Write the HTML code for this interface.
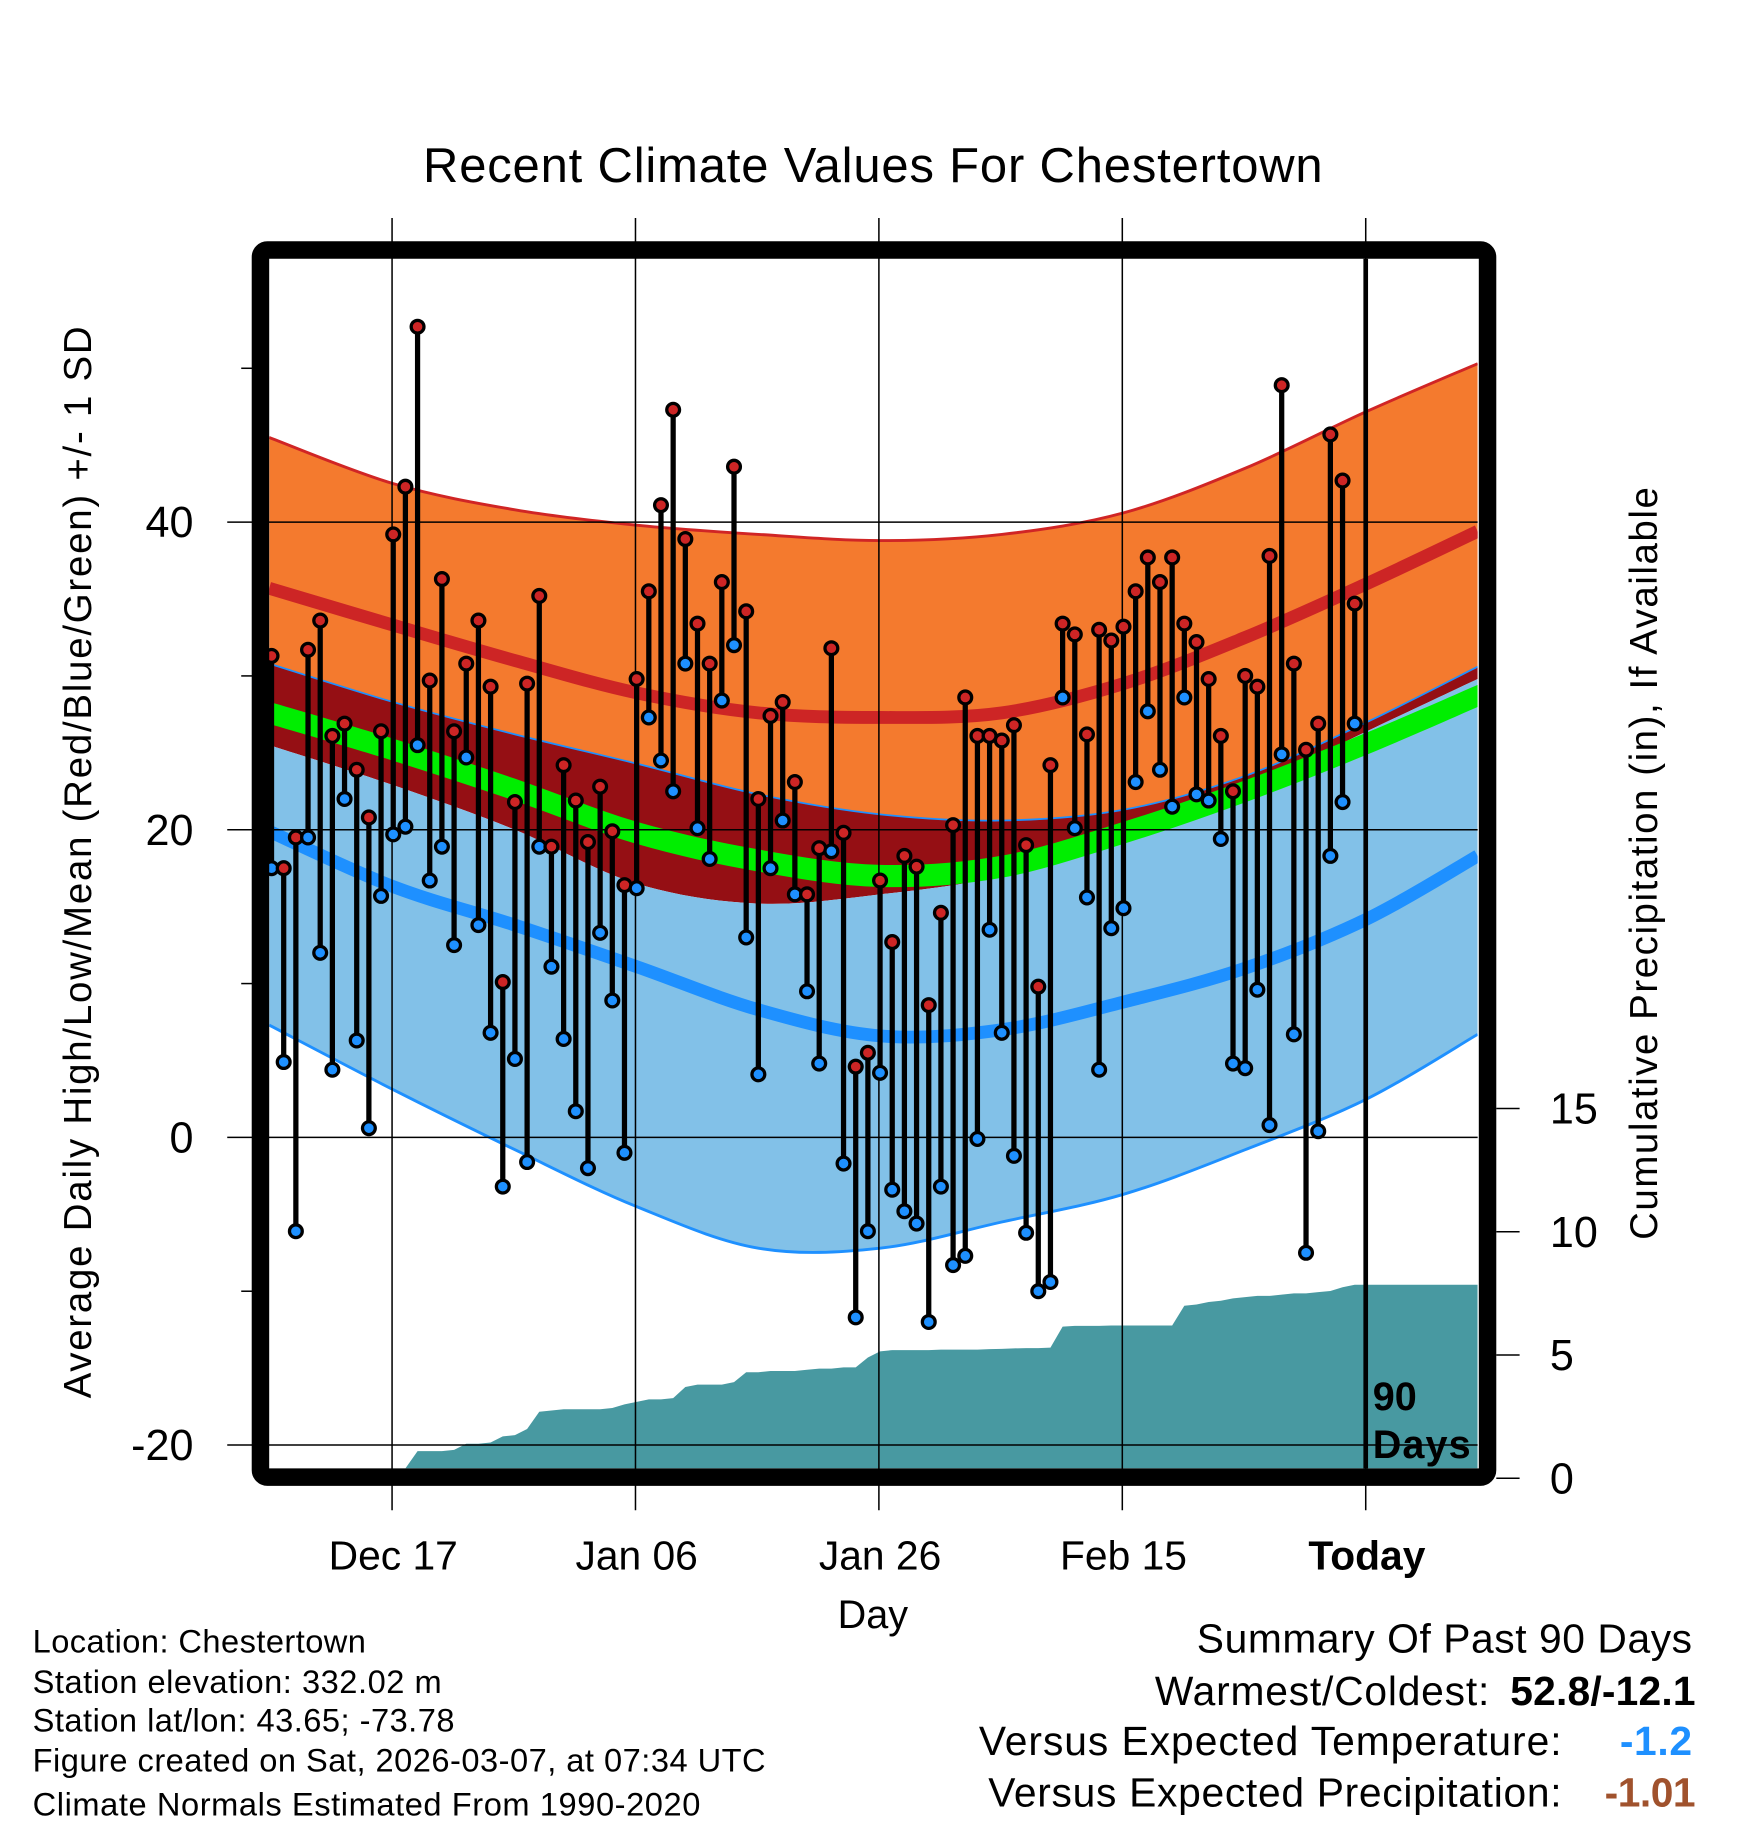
<!DOCTYPE html>
<html><head><meta charset="utf-8"><style>
html,body{margin:0;padding:0;background:#fff}
svg{display:block;font-family:"Liberation Sans",sans-serif}
</style></head><body>
<svg id="chart" width="1748" height="1828" viewBox="0 0 1500 1568.6" xmlns="http://www.w3.org/2000/svg">
<text x="749" y="156" font-size="42" text-anchor="middle" textLength="772">Recent Climate Values For Chestertown</text>
<g id="bands"></g>
<g id="precip"></g>
<g id="grid"></g>
<g id="marks"></g>
<g id="frame"></g>
<g id="axes"></g>
<text x="1178" y="1210" font-size="34" font-weight="bold">90</text>
<text x="1178" y="1251" font-size="34" font-weight="bold" textLength="84">Days</text>
<text transform="translate(78,740) rotate(-90)" font-size="33" text-anchor="middle" textLength="920">Average Daily High/Low/Mean (Red/Blue/Green) +/- 1 SD</text>
<text transform="translate(1422,741) rotate(-90)" font-size="33" text-anchor="middle" textLength="646">Cumulative Precipitation (in), If Available</text>
<text x="749" y="1397" font-size="34" text-anchor="middle">Day</text>
<g font-size="28">
<text x="28" y="1418" textLength="286">Location: Chestertown</text>
<text x="28" y="1453" textLength="351">Station elevation: 332.02 m</text>
<text x="28" y="1486" textLength="362">Station lat/lon: 43.65; -73.78</text>
<text x="28" y="1520" textLength="629">Figure created on Sat, 2026-03-07, at 07:34 UTC</text>
<text x="28" y="1558" textLength="573">Climate Normals Estimated From 1990-2020</text>
</g>
<g font-size="35">
<text x="1027" y="1418" textLength="425">Summary Of Past 90 Days</text>
<text x="991" y="1463" textLength="287">Warmest/Coldest:</text>
<text x="1296" y="1463" font-weight="bold" textLength="159">52.8/-12.1</text>
<text x="840" y="1506" textLength="500">Versus Expected Temperature:</text>
<text x="1390" y="1506" font-weight="bold" fill="#1E90FF" textLength="62">-1.2</text>
<text x="848" y="1550" textLength="492">Versus Expected Precipitation:</text>
<text x="1377" y="1550" font-weight="bold" fill="#A0522D" textLength="78">-1.01</text>
</g>
</svg>
<script>
// ---- data ----
const highs = [31.3,17.5,19.5,31.7,33.6,26.1,26.9,23.9,20.8,26.4,39.2,42.3,52.7,29.7,36.3,26.4,30.8,33.6,29.3,10.1,21.8,29.5,35.2,18.9,24.2,21.9,19.2,22.8,19.9,16.4,29.8,35.5,41.1,47.3,38.9,33.4,30.8,36.1,43.6,34.2,22.0,27.4,28.3,23.1,15.8,18.8,31.8,19.8,4.6,5.5,16.7,12.7,18.3,17.6,8.6,14.6,20.3,28.6,26.1,26.1,25.8,26.8,19.0,9.8,24.2,33.4,32.7,26.2,33.0,32.3,33.2,35.5,37.7,36.1,37.7,33.4,32.2,29.8,26.1,22.5,30.0,29.3,37.8,48.9,30.8,25.2,26.9,45.7,42.7,34.7];
const lows = [17.5,4.9,-6.1,19.5,12.0,4.4,22.0,6.3,0.6,15.7,19.7,20.2,25.5,16.7,18.9,12.5,24.7,13.8,6.8,-3.2,5.1,-1.6,18.9,11.1,6.4,1.7,-2.0,13.3,8.9,-1.0,16.2,27.3,24.5,22.5,30.8,20.1,18.1,28.4,32.0,13.0,4.1,17.5,20.6,15.8,9.5,4.8,18.6,-1.7,-11.7,-6.1,4.2,-3.4,-4.8,-5.6,-12.0,-3.2,-8.3,-7.7,-0.1,13.5,6.8,-1.2,-6.2,-10.0,-9.4,28.6,20.1,15.6,4.4,13.6,14.9,23.1,27.7,23.9,21.5,28.6,22.3,21.9,19.4,4.8,4.5,9.6,0.8,24.9,6.7,-7.5,0.4,18.3,21.8,26.9];
const precip = [0,0,0,0,0,0,0,0,0,0,0,0,1.1,1.1,1.1,1.15,1.4,1.4,1.45,1.7,1.75,2.0,2.7,2.75,2.8,2.8,2.8,2.8,2.85,3.0,3.1,3.2,3.2,3.25,3.7,3.8,3.8,3.8,3.9,4.3,4.3,4.35,4.35,4.35,4.4,4.45,4.45,4.5,4.5,4.9,5.15,5.2,5.2,5.2,5.2,5.22,5.22,5.22,5.22,5.24,5.25,5.27,5.28,5.28,5.3,6.15,6.18,6.18,6.18,6.2,6.2,6.2,6.2,6.2,6.2,7.0,7.05,7.15,7.2,7.3,7.35,7.4,7.4,7.45,7.5,7.5,7.55,7.6,7.75,7.85];
const normDays = [0,10,20,30,40,50,60,70,80,90,99];
const highUpper = [45.5,42.5,40.8,39.8,39.2,38.8,39.2,40.6,43.5,47.2,50.3];
const highMean = [35.7,33.3,31.0,28.9,27.6,27.3,27.6,29.5,32.5,36.0,39.4];
const highLower = [30.8,28.3,26.2,24.3,22.3,21.0,20.6,21.3,23.5,27.0,30.6];
const meanMean = [27.6,25.2,22.6,19.8,18.0,17.0,17.6,19.8,22.5,25.6,28.7];
const lowUpper = [25.5,22.9,20.0,16.5,15.2,15.8,17.0,19.6,22.6,26.4,29.8];
const lowMean = [19.9,16.3,13.8,11.1,8.3,6.6,7.0,8.8,11.0,14.2,18.3];
const lowLower = [7.3,3.1,-0.8,-4.5,-7.2,-7.2,-5.5,-3.7,-0.8,2.5,6.7];
const yTicks = [40,20,0,-20];
const yMinor = [50,30,10,-10];
const pTicks = [15,10,5,0];
const xTickDays = [10,30,50,70,90];
const xTickLabels = ["Dec 17","Jan 06","Jan 26","Feb 15","Today"];
const todayDay = 90;
// ---- scales ----
const X0=233, DX=10.444, L=231, R=1268, T=222, B=1260;
const xs = d => X0 + d*DX;
const ys = v => 976 - 13.2*v;
const yp = p => 1268.5 - 21.15*p;
const NS="http://www.w3.org/2000/svg";
function mk(tag, attrs, parent){const e=document.createElementNS(NS,tag);for(const k in attrs)e.setAttribute(k,attrs[k]);parent.appendChild(e);return e;}
function curvePts(arr){const pts=[];for(let i=0;i<normDays.length;i++)pts.push([xs(normDays[i]),ys(arr[i])]);pts[0][0]=L;pts[pts.length-1][0]=R;return pts;}
function spline(pts){let d="";for(let i=0;i<pts.length-1;i++){const p0=pts[Math.max(0,i-1)],p1=pts[i],p2=pts[i+1],p3=pts[Math.min(pts.length-1,i+2)];const c1=[p1[0]+(p2[0]-p0[0])/6,p1[1]+(p2[1]-p0[1])/6],c2=[p2[0]-(p3[0]-p1[0])/6,p2[1]-(p3[1]-p1[1])/6];if(i===0)d+="M"+p1[0]+","+p1[1];d+="C"+c1+" "+c2+" "+p2;}return d;}
function bandPath(upper,lower){const u=curvePts(upper),lo=curvePts(lower).reverse();return spline(u)+"L"+spline(lo).slice(1)+"Z";}
const bands=document.getElementById('bands');
const defs=mk('defs',{},bands);
const cp=mk('clipPath',{id:'plotclip'},defs);mk('rect',{x:L,y:T,width:R-L,height:B-T},cp);
const g=mk('g',{'clip-path':'url(#plotclip)'},bands);
let e;
e=mk('path',{d:bandPath(highLower,lowUpper),fill:'#950F14'},g);


e=mk('path',{d:bandPath(highUpper,highLower),fill:'#F47A2E'},g);


e=mk('path',{d:bandPath(lowUpper,lowLower),fill:'#82C1E8'},g);


const greenU=meanMean.map(v=>v+0.72),greenL=meanMean.map(v=>v-0.72);
e=mk('path',{d:bandPath(greenU,greenL),fill:'#00EE00'},g);


e=mk('path',{d:spline(curvePts(highUpper)),fill:'none',stroke:'#D02525','stroke-width':2.5},g);


e=mk('path',{d:spline(curvePts(highMean)),fill:'none',stroke:'#CD2525','stroke-width':11},g);


e=mk('path',{d:spline(curvePts(highLower)),fill:'none',stroke:'#1E90FF','stroke-width':1.5},g);


e=mk('path',{d:spline(curvePts(lowMean)),fill:'none',stroke:'#1E90FF','stroke-width':11},g);


e=mk('path',{d:spline(curvePts(lowLower)),fill:'none',stroke:'#1E90FF','stroke-width':2.5},g);


// precip
const pg=document.getElementById('precip');
let pd="M"+xs(0)+","+B;
precip.forEach((p,i)=>{pd+="L"+xs(i)+","+Math.min(B,yp(p));});
pd+="L"+R+","+yp(precip[precip.length-1])+"L"+R+","+B+"Z";
e=mk('path',{d:pd,fill:'#4899A1','clip-path':'url(#plotclip)'},pg);


// grid
const gr=document.getElementById('grid');
yTicks.forEach(v=>{e=mk('line',{x1:195,x2:R,y1:ys(v),y2:ys(v),stroke:'#000','stroke-width':1.3},gr);

});
xTickDays.forEach(d=>{e=mk('line',{x1:xs(d)-1,x2:xs(d)-1,y1:187,y2:1296,stroke:'#000','stroke-width':1.3},gr);

});
// marks
const mg=document.getElementById('marks');
highs.forEach((h,i)=>{const x=xs(i);
e=mk('line',{x1:x,x2:x,y1:ys(h),y2:ys(lows[i]),stroke:'#000','stroke-width':4.5},mg);

});
highs.forEach((h,i)=>{const x=xs(i);
e=mk('circle',{cx:x,cy:ys(lows[i]),r:5.5,fill:'#1E90FF',stroke:'#000','stroke-width':2.8},mg);


e=mk('circle',{cx:x,cy:ys(h),r:5.5,fill:'#CD2525',stroke:'#000','stroke-width':2.8},mg);

});
// today line
e=mk('line',{x1:xs(todayDay)-1,x2:xs(todayDay)-1,y1:T,y2:B,stroke:'#000','stroke-width':4},mg);


// frame
const fr=document.getElementById('frame');
e=mk('rect',{x:223.5,y:214.5,width:1053,height:1053,rx:6,fill:'none',stroke:'#000','stroke-width':15},fr);


// axes
const ax=document.getElementById('axes');
yTicks.forEach(v=>{e=mk('text',{x:166,y:ys(v)+13,'font-size':37,'text-anchor':'end'},ax);e.textContent=String(v);

});
yMinor.forEach(v=>{e=mk('line',{x1:207,x2:217,y1:ys(v),y2:ys(v),stroke:'#000','stroke-width':1.3},ax);

});
pTicks.forEach(p=>{e=mk('line',{x1:1284,x2:1304,y1:yp(p),y2:yp(p),stroke:'#000','stroke-width':1.3},ax);


e=mk('text',{x:1330,y:yp(p)+13,'font-size':37},ax);e.textContent=String(p);

});
xTickDays.forEach((d,i)=>{e=mk('text',{x:xs(d),y:1347,'font-size':35,'text-anchor':'middle'},ax);e.textContent=xTickLabels[i];
if(xTickLabels[i]==="Today")e.setAttribute('font-weight','bold');

});
</script>
</body></html>
